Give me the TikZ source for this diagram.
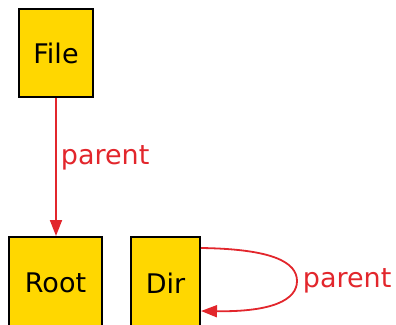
\documentclass[tikz,border=0pt]{standalone}
\usepackage{fontspec}
\setmainfont{DejaVu Sans}
\usetikzlibrary{arrows.meta}

\definecolor{boxfill}{RGB}{255,215,0}
\definecolor{linkred}{RGB}{226,38,44}

\tikzset{
  cls/.style={draw=black,line width=2pt,fill=boxfill,inner sep=0pt,
    font=\fontsize{27}{30}\selectfont},
  link/.style={draw=linkred,line width=1.8pt,-{Triangle[length=16pt,width=12pt]}},
  linklabel/.style={text=linkred,font=\fontsize{27}{30}\selectfont,inner sep=0pt}
}

\begin{document}
\begin{tikzpicture}[x=1pt,y=-1pt]
    \useasboundingbox (0,0) rectangle (396,324);
    \clip (0,0) rectangle (396,324);

    \node[cls,minimum width=74pt,minimum height=88pt] (file) at (56,53) {File};
    \node[cls,minimum width=93pt,minimum height=92pt] (root) at (55.5,283) {Root};
    \node[cls,minimum width=69pt,minimum height=92pt] (dir) at (165.5,283) {Dir};

    % parent of a file
    \draw[link] (file.south) -- (file.south |- root.north)
      node[pos=.43,right=4pt,linklabel] {parent};

    % a dir points back at itself
    \draw[link] ([yshift=-12pt]dir.north east)
      .. controls (272,249) and (297,262) .. (297,281)
      node[right=5pt,linklabel] {parent}
      .. controls (297,300) and (272,312) .. ([yshift=-75pt]dir.north east);
\end{tikzpicture}
\end{document}
